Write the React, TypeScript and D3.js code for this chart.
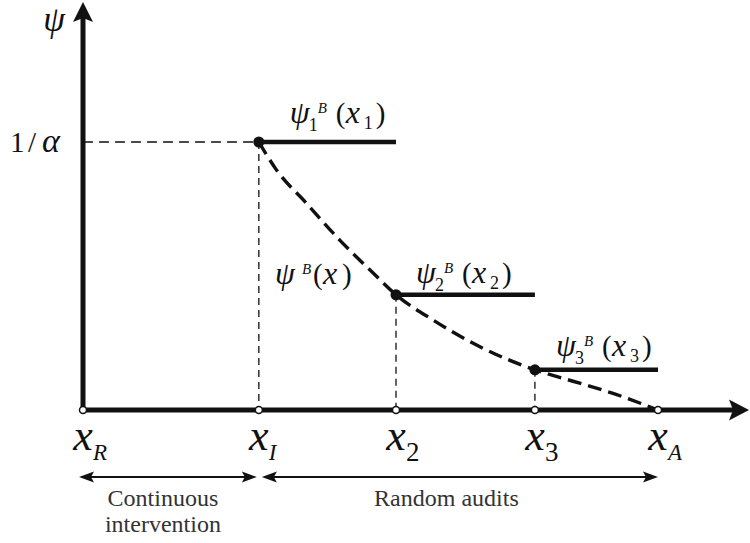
import React from 'react';
import * as d3 from 'd3';

// positions on the horizontal axis: x_R, x_I, x_2, x_3, x_A
const tickValues = [0, 1, 1.78, 2.57, 3.27];
const tickSubs = ['R', 'I', '2', '3', 'A'];

// step levels psi_i^B(x_i), starting at x_I, x_2, x_3
const stepValues = [1, 0.43, 0.15];
const stepSubs = ['1', '2', '3'];

// dashed psi^B(x) curve
const curveX = [1, 1.1, 1.27, 1.46, 1.65, 1.78, 1.99, 2.26, 2.57, 2.82, 3.01, 3.27];
const curveY = [1, 0.896, 0.772, 0.634, 0.511, 0.43, 0.336, 0.235, 0.15, 0.101, 0.063, 0];

// regions under the axis
const regionFrom = [0, 1];
const regionTo = [1, 3.27];
const regionText = [['Continuous', 'intervention'], ['Random audits']];

const W = 750;
const H = 543;
const serif = '"Liberation Serif", "Times New Roman", serif';
const ink = '#111';

// label offsets from each step start point (dx, dy)
const stepLabelOff = [[31, -19], [20, -12], [21, -14]];

const App = () => {
  const x = d3.scaleLinear().domain([0, 3.27]).range([83, 658]);
  const y = d3.scaleLinear().domain([0, 1]).range([410, 142]);

  const x0 = x(0);
  const y0 = y(0);
  const curvePts: [number, number][] = curveX.map((v, i) => [v, curveY[i]]);
  const line = d3
    .line<[number, number]>()
    .x((d) => x(d[0]))
    .y((d) => y(d[1]))
    .curve(d3.curveMonotoneX);

  const arrowY = 477;
  // horizontal arrow head, tip at (tx,ty), dir 1 = pointing right
  const hHead = (tx: number, ty: number, dir: number, len: number, half: number) =>
    `M${tx},${ty} L${tx - dir * len},${ty - half} L${tx - dir * len * 0.8},${ty} L${tx - dir * len},${ty + half} Z`;
  // vertical arrow head pointing up
  const vHead = (tx: number, ty: number, len: number, half: number) =>
    `M${tx},${ty} L${tx - half},${ty + len} L${tx},${ty + len * 0.8} L${tx + half},${ty + len} Z`;

  return (
    <svg width={W} height={H} style={{ position: 'absolute', left: 0, top: 0, background: '#fff' }}>
      {/* guide lines */}
      <line x1={x0} x2={x(1)} y1={y(1)} y2={y(1)} stroke={ink} strokeWidth={1.3} strokeDasharray="10,6" />
      {tickValues.slice(1, 4).map((t, i) => (
        <line key={'v' + i} x1={x(t)} x2={x(t)} y1={y(stepValues[i])} y2={y0} stroke={ink} strokeWidth={1.3} strokeDasharray="7,5" />
      ))}

      {/* dashed curve */}
      <path d={line(curvePts) || ''} fill="none" stroke={ink} strokeWidth={3.4} strokeDasharray="14,7" />

      {/* step segments */}
      {stepValues.map((v, i) => (
        <line key={'s' + i} x1={x(tickValues[i + 1])} x2={x(tickValues[i + 2])} y1={y(v)} y2={y(v)} stroke={ink} strokeWidth={4.5} />
      ))}
      {stepValues.map((v, i) => (
        <circle key={'p' + i} cx={x(tickValues[i + 1])} cy={y(v)} r={5.5} fill={ink} />
      ))}

      {/* axes */}
      <line x1={x0} x2={x0} y1={y0 + 2} y2={14} stroke={ink} strokeWidth={5} />
      <path d={vHead(x0, 2, 20, 10)} fill={ink} />
      <line x1={x0 - 2} x2={737} y1={y0} y2={y0} stroke={ink} strokeWidth={5} />
      <path d={hHead(749, y0, 1, 20, 10.5)} fill={ink} />

      {tickValues.map((t, i) => (
        <circle key={'t' + i} cx={x(t)} cy={y0} r={3.5} fill="#fff" stroke={ink} strokeWidth={1.5} />
      ))}

      {/* axis labels */}
      <text x={54} y={31} fontFamily={serif} fontStyle="italic" fontSize={35} textAnchor="middle" fill={ink}>ψ</text>
      <g fontFamily={serif} fill={ink}>
        <text x={10} y={y(1) + 10} fontSize={29}>1</text>
        <text x={28} y={y(1) + 10} fontSize={29}>/</text>
        <text x={42} y={y(1) + 10} fontSize={34} fontStyle="italic">α</text>
      </g>

      {tickValues.map((t, i) => {
        const isNum = /\d/.test(tickSubs[i]);
        return (
          <g key={'l' + i} fontFamily={serif} fill={ink}>
            <text x={x(t)} y={450} fontSize={44} fontStyle="italic" textAnchor="middle">x</text>
            <text x={x(t) + 10} y={isNum ? 461 : 460} fontSize={isNum ? 27 : 23} fontStyle={isNum ? 'normal' : 'italic'}>{tickSubs[i]}</text>
          </g>
        );
      })}

      {/* step labels */}
      {stepValues.map((v, i) => {
        const lx = x(tickValues[i + 1]) + stepLabelOff[i][0];
        const ly = y(v) + stepLabelOff[i][1];
        return (
          <g key={'sl' + i} fontFamily={serif} fill={ink}>
            <text x={lx} y={ly} fontSize={32} fontStyle="italic">ψ</text>
            <text x={lx + 19} y={ly + 8} fontSize={18}>{stepSubs[i]}</text>
            <text x={lx + 28} y={ly - 10} fontSize={15} fontStyle="italic">B</text>
            <text x={lx + 46} y={ly} fontSize={29}>(</text>
            <text x={lx + 56} y={ly} fontSize={32} fontStyle="italic">x</text>
            <text x={lx + 74} y={ly + 6} fontSize={18}>{stepSubs[i]}</text>
            <text x={lx + 86} y={ly} fontSize={29}>)</text>
          </g>
        );
      })}
      <g fontFamily={serif} fill={ink}>
        <text x={275} y={284} fontSize={32} fontStyle="italic">ψ</text>
        <text x={302} y={274} fontSize={15} fontStyle="italic">B</text>
        <text x={313} y={284} fontSize={29}>(</text>
        <text x={323} y={284} fontSize={32} fontStyle="italic">x</text>
        <text x={342} y={284} fontSize={29}>)</text>
      </g>

      {/* regions */}
      {regionFrom.map((f, i) => {
        const a = x(f) + (i === 0 ? -4 : 3);
        const b = x(regionTo[i]) - (i === 0 ? 2 : 0);
        const cx = (x(f) + x(regionTo[i])) / 2 - (i === 0 ? 8 : 12);
        return (
          <g key={'r' + i}>
            <line x1={a + 10} x2={b - 10} y1={arrowY} y2={arrowY} stroke={ink} strokeWidth={2.2} />
            <path d={hHead(a, arrowY, -1, 15, 5.5)} fill={ink} />
            <path d={hHead(b, arrowY, 1, 15, 5.5)} fill={ink} />
            {regionText[i].map((s, j) => (
              <text key={j} x={cx} y={506 + j * 26} fontFamily={serif} fontSize={24} textAnchor="middle" fill="#333">{s}</text>
            ))}
          </g>
        );
      })}
    </svg>
  );
};

export default App;
